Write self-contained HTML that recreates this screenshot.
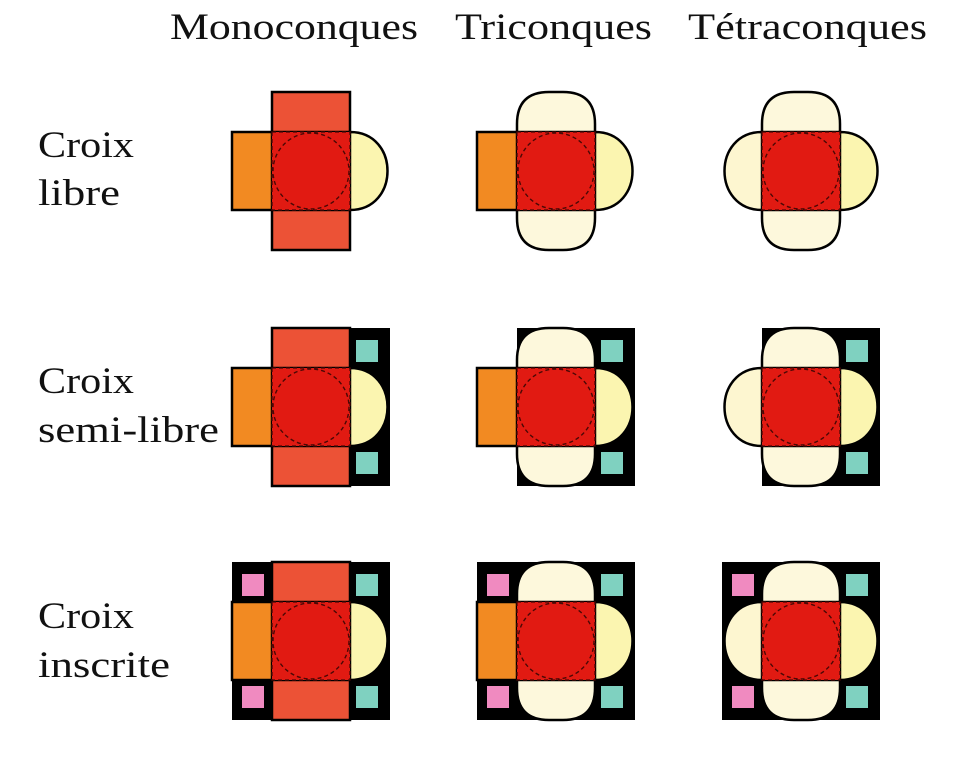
<!DOCTYPE html>
<html><head><meta charset="utf-8"><style>
html,body{margin:0;padding:0;background:#fff;}
svg{display:block;}
text{font-family:"Liberation Serif",serif;font-size:37px;fill:#111;}
</style></head><body>
<svg width="962" height="759" viewBox="0 0 962 759" xmlns="http://www.w3.org/2000/svg">
<defs>
 <g id="circ"><circle cx="39" cy="39" r="38" fill="none" stroke="#4a0805" stroke-width="1.4" stroke-dasharray="4 3"/></g>
 <path id="lobeT" d="M0,0 L0,-8 Q0,-40 32,-40 L46,-40 Q78,-40 78,-8 L78,0 Z" fill="#fdf8dc" stroke="#000" stroke-width="2.5"/>
 <path id="lobeB" d="M0,78 L0,86 Q0,118 32,118 L46,118 Q78,118 78,86 L78,78 Z" fill="#fdf8dc" stroke="#000" stroke-width="2.5"/>
 <path id="lobeR" d="M78,0 C128,0 128,78 78,78 Z" fill="#fbf5b0" stroke="#000" stroke-width="2.5"/>
 <path id="lobeL" d="M0,0 C-50,0 -50,78 0,78 Z" fill="#fdf6d0" stroke="#000" stroke-width="2.5"/>
 <rect id="armL" x="-40" y="0" width="40" height="78" fill="#f28a22" stroke="#000" stroke-width="2.5"/>
 <rect id="armT" x="0" y="-40" width="78" height="40" fill="#ec5236" stroke="#000" stroke-width="2.5"/>
 <rect id="armB" x="0" y="78" width="78" height="40" fill="#ec5236" stroke="#000" stroke-width="2.5"/>
 <g id="sq"><rect x="0" y="0" width="78" height="78" fill="#e11a12" stroke="#4a0805" stroke-width="1.3" stroke-dasharray="4 3"/><use href="#circ"/></g>
 <g id="bk2"><rect x="0" y="-40" width="118" height="158" fill="#000"/>
   <rect x="84" y="-28" width="22" height="22" fill="#7fd1c0"/><rect x="84" y="84" width="22" height="22" fill="#7fd1c0"/></g>
 <g id="bk3"><rect x="-40" y="-40" width="158" height="158" fill="#000"/>
   <rect x="84" y="-28" width="22" height="22" fill="#7fd1c0"/><rect x="84" y="84" width="22" height="22" fill="#7fd1c0"/>
   <rect x="-30" y="-28" width="22" height="22" fill="#f08ac0"/><rect x="-30" y="84" width="22" height="22" fill="#f08ac0"/></g>
 <g id="mono"><use href="#armL"/><use href="#armT"/><use href="#armB"/><use href="#lobeR"/><use href="#sq"/></g>
 <g id="tri"><use href="#armL"/><use href="#lobeT"/><use href="#lobeB"/><use href="#lobeR"/><use href="#sq"/></g>
 <g id="tet"><use href="#lobeL"/><use href="#lobeT"/><use href="#lobeB"/><use href="#lobeR"/><use href="#sq"/></g>
</defs>
<text x="170" y="39" textLength="248" lengthAdjust="spacingAndGlyphs">Monoconques</text>
<text x="455" y="39" textLength="197" lengthAdjust="spacingAndGlyphs">Triconques</text>
<text x="688" y="39" textLength="239" lengthAdjust="spacingAndGlyphs">Tétraconques</text>
<text x="38" y="157" textLength="96" lengthAdjust="spacingAndGlyphs">Croix</text>
<text x="38" y="205" textLength="82" lengthAdjust="spacingAndGlyphs">libre</text>
<text x="38" y="393" textLength="96" lengthAdjust="spacingAndGlyphs">Croix</text>
<text x="38" y="442" textLength="181" lengthAdjust="spacingAndGlyphs">semi-libre</text>
<text x="38" y="628" textLength="96" lengthAdjust="spacingAndGlyphs">Croix</text>
<text x="38" y="677" textLength="132" lengthAdjust="spacingAndGlyphs">inscrite</text>

<g transform="translate(272,132)"><use href="#mono"/></g>
<g transform="translate(517,132)"><use href="#tri"/></g>
<g transform="translate(762,132)"><use href="#tet"/></g>

<g transform="translate(272,368)"><use href="#bk2"/><use href="#mono"/></g>
<g transform="translate(517,368)"><use href="#bk2"/><use href="#tri"/></g>
<g transform="translate(762,368)"><use href="#bk2"/><use href="#tet"/></g>

<g transform="translate(272,602)"><use href="#bk3"/><use href="#mono"/></g>
<g transform="translate(517,602)"><use href="#bk3"/><use href="#tri"/></g>
<g transform="translate(762,602)"><use href="#bk3"/><use href="#tet"/></g>
</svg>
</body></html>
